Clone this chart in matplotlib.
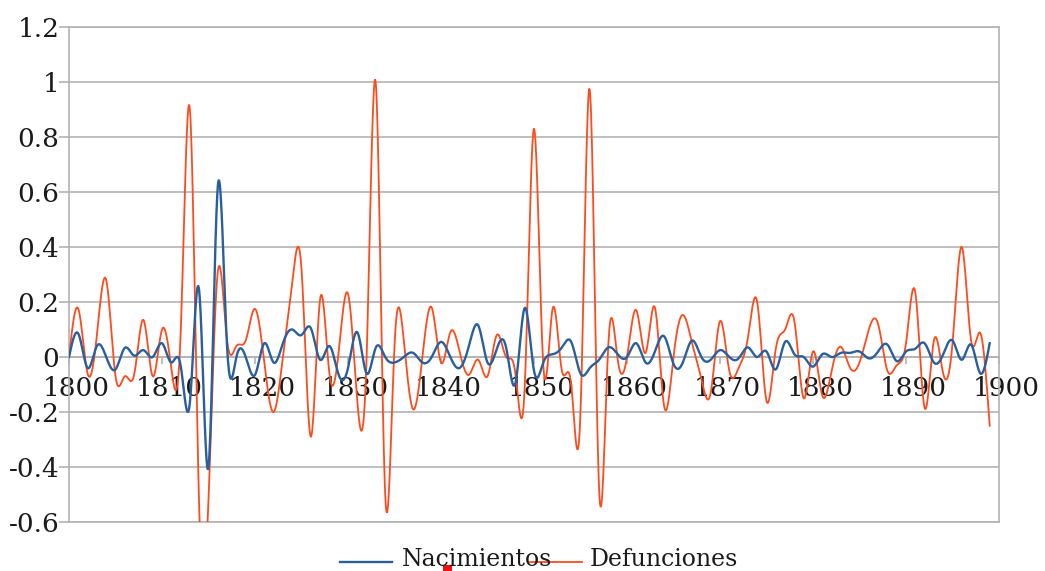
import numpy as np
import matplotlib
matplotlib.use("Agg")
import matplotlib.pyplot as plt
from matplotlib.transforms import ScaledTranslation
from matplotlib.lines import Line2D
from matplotlib.patches import Rectangle

years = list(range(1800, 1900))

nacimientos = [
    0.0, 0.085, -0.04, 0.04, 0.0, -0.045, 0.033, 0.005, 0.025, 0.0,
    0.05, -0.02, -0.03, -0.165, 0.24, -0.40, 0.62, 0.035, 0.0, 0.0,
    -0.065, 0.05, -0.02, 0.05, 0.1, 0.08, 0.105, -0.01, 0.04, -0.065,
    -0.04, 0.09, -0.06, 0.035, 0.0, -0.02, 0.0, 0.015, -0.02, 0.0,
    0.055, 0.0, -0.04, 0.04, 0.115, -0.02, 0.03, 0.035, -0.095, 0.178,
    -0.05, -0.02, 0.01, 0.035, 0.055, -0.06, -0.04, -0.01, 0.035, 0.01,
    0.0, 0.05, -0.02, 0.02, 0.075, -0.025, -0.02, 0.06, 0.0, -0.01,
    0.025, 0.0, -0.005, 0.035, 0.0, 0.02, -0.045, 0.055, 0.01, 0.0,
    -0.035, 0.01, 0.0, 0.015, 0.015, 0.02, -0.005, 0.02, 0.045, -0.015,
    0.02, 0.03, 0.05, -0.02, 0.01, 0.06, -0.01, 0.045, -0.06, 0.05,
]

defunciones = [
    0.0, 0.175, -0.06, 0.08, 0.28, -0.07, -0.07, -0.065, 0.135, -0.07,
    0.10, -0.04, 0.08, 0.90, -0.55, -0.52, 0.31, 0.06, 0.04, 0.06,
    0.175, -0.02, -0.2, 0.0, 0.27, 0.32, -0.29, 0.21, -0.06, 0.02,
    0.23, -0.16, 0.0, 0.99, -0.5, 0.04, 0.06, -0.19, 0.0, 0.18,
    -0.02, 0.09, 0.02, -0.065, -0.01, -0.07, 0.08, 0.0, -0.06, -0.11,
    0.83, -0.03, 0.175, -0.05, -0.1, -0.2, 0.97, -0.48, 0.05, -0.01,
    0.0, 0.17, 0.015, 0.18, -0.18, 0.0, 0.153, 0.05, -0.08, -0.13,
    0.13, -0.05, -0.04, 0.07, 0.20, -0.16, 0.03, 0.10, 0.13, -0.15,
    0.02, -0.14, -0.05, 0.037, -0.04, -0.02, 0.1, 0.12, -0.05, -0.03,
    0.05, 0.235, -0.185, 0.06, -0.06, 0.05, 0.40, 0.06, 0.087, -0.25,
]

x_ticks = list(range(1800, 1901, 10))
x_tick_labels = [str(v) for v in x_ticks]
y_ticks = [-0.6, -0.4, -0.2, 0.0, 0.2, 0.4, 0.6, 0.8, 1.0, 1.2]
y_tick_labels = ["-0.6", "-0.4", "-0.2", "0", "0.2", "0.4", "0.6", "0.8", "1", "1.2"]
series_names = ["Nacimientos", "Defunciones"]


def natural_spline(x, y, n=20):
    x = np.asarray(x, float)
    y = np.asarray(y, float)
    N = len(x)
    h = np.diff(x)
    A = np.zeros((N, N))
    r = np.zeros(N)
    A[0, 0] = 1
    A[-1, -1] = 1
    for i in range(1, N - 1):
        A[i, i - 1] = h[i - 1]
        A[i, i] = 2 * (h[i - 1] + h[i])
        A[i, i + 1] = h[i]
        r[i] = 3 * ((y[i + 1] - y[i]) / h[i] - (y[i] - y[i - 1]) / h[i - 1])
    c = np.linalg.solve(A, r)
    b = (y[1:] - y[:-1]) / h - h * (2 * c[:-1] + c[1:]) / 3
    d = (c[1:] - c[:-1]) / (3 * h)
    xs, ys = [], []
    for i in range(N - 1):
        t = np.linspace(0, h[i], n, endpoint=False)
        xs.append(x[i] + t)
        ys.append(y[i] + b[i] * t + c[i] * t ** 2 + d[i] * t ** 3)
    xs.append([x[-1]])
    ys.append([y[-1]])
    return np.concatenate(xs), np.concatenate(ys)


W, H = 1045, 571
fig = plt.figure(figsize=(W / 100, H / 100), dpi=100)
ax = fig.add_axes([69 / W, (H - 522) / H, 930 / W, 495 / H])

grid_c = "#b3b3b3"
text_c = "#1a1a1a"
blue = "#2a5f9e"
red = "#ff4a1c"

ax.set_xlim(1800, 1900)
ax.set_ylim(-0.6, 1.2)

sx, sy = natural_spline(years, nacimientos)
ax.plot(sx, sy, color=blue, lw=1.7, solid_joinstyle="round", zorder=4)
sx, sy = natural_spline(years, defunciones)
ax.plot(sx, sy, color=red, lw=1.3, solid_joinstyle="round", zorder=3)

ax.set_yticks(y_ticks)
ax.set_yticklabels(y_tick_labels)
ax.set_xticks(x_ticks)
ax.set_xticklabels(x_tick_labels)

ax.grid(axis="y", color=grid_c, lw=1.2, zorder=0)
ax.grid(axis="x", visible=False)
ax.axhline(-0.6, color=grid_c, lw=1.2, clip_on=False, zorder=0)

for s in ["left", "right", "top"]:
    ax.spines[s].set_color(grid_c)
    ax.spines[s].set_linewidth(1.2)
ax.spines["bottom"].set_position(("data", 0))
ax.spines["bottom"].set_color(grid_c)
ax.spines["bottom"].set_linewidth(1.2)

ax.tick_params(axis="y", direction="out", length=7, width=1.2, color=grid_c,
               pad=0, labelsize=19, labelcolor=text_c)
ax.tick_params(axis="x", direction="out", length=5, width=1.2, color=grid_c,
               pad=9, labelsize=19, labelcolor=text_c)
for lab in ax.get_yticklabels() + ax.get_xticklabels():
    lab.set_family("DejaVu Serif")
off = ScaledTranslation(7 / 100, 0, fig.dpi_scale_trans)
for lab in ax.get_xticklabels():
    lab.set_transform(lab.get_transform() + off)

# legend (manual, as in the reference)
ly = 1 - 562 / H
fig.add_artist(Line2D([340 / W, 392 / W], [ly, ly], color=blue, lw=1.7))
fig.text(402 / W, 1 - 559 / H, series_names[0], fontsize=17, family="DejaVu Serif",
         color=text_c, va="center", ha="left")
fig.add_artist(Line2D([530 / W, 582 / W], [ly, ly], color=red, lw=1.3))
fig.text(590 / W, 1 - 559 / H, series_names[1], fontsize=17, family="DejaVu Serif",
         color=text_c, va="center", ha="left")
fig.add_artist(Rectangle((443 / W, 0), 9 / W, 6 / H, transform=fig.transFigure,
                         color="#ee1111", lw=0))

fig.savefig("out.png", dpi=100)
